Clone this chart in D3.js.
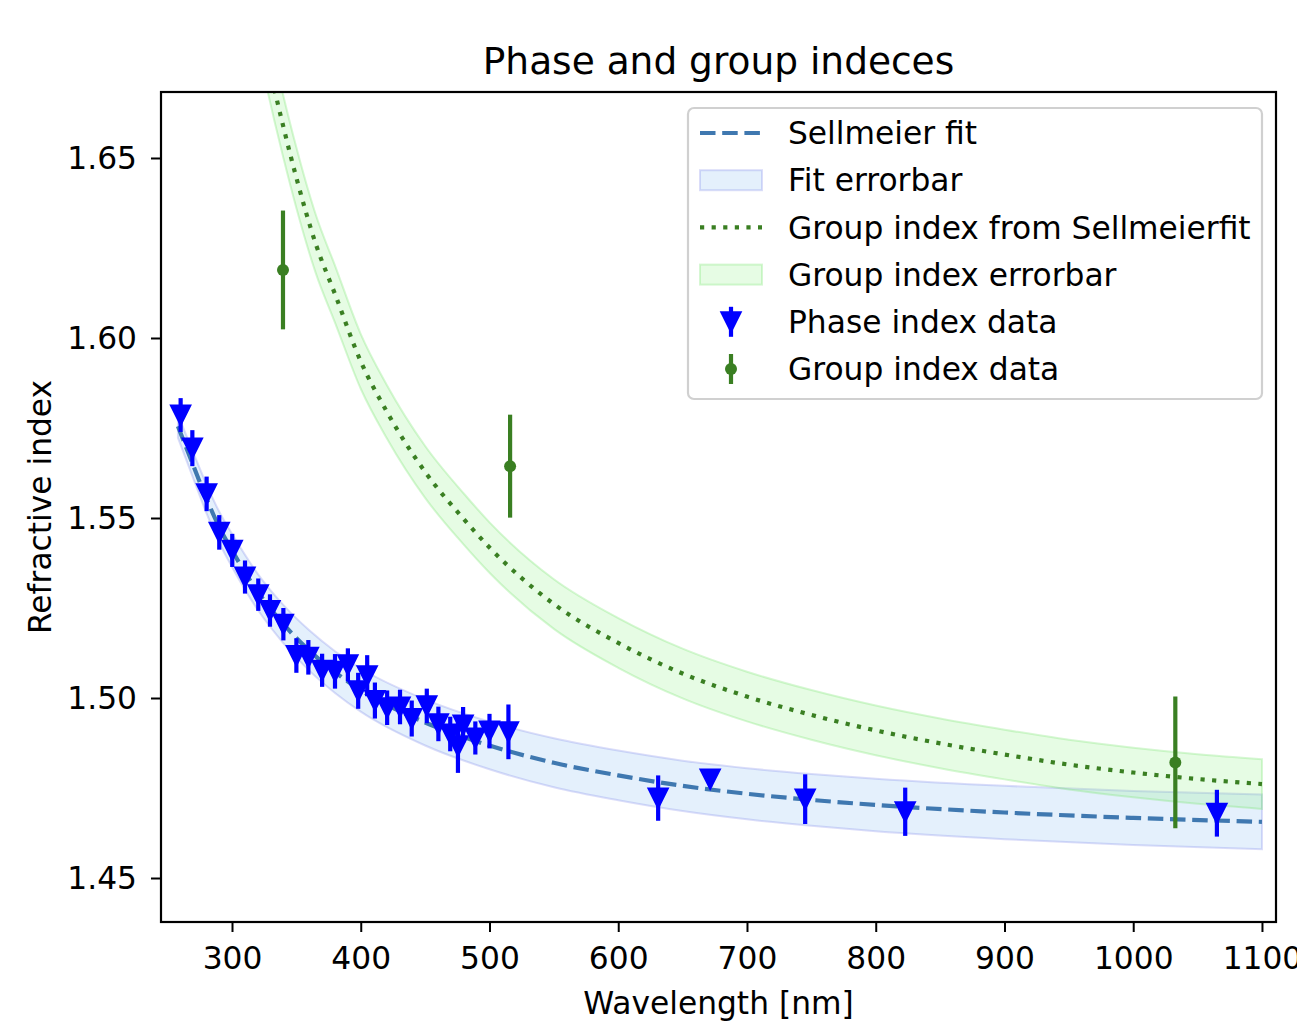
<!DOCTYPE html>
<meta charset="utf-8">
<script src="https://d3js.org/d3.v7.min.js"></script>
<style>
  body { margin: 0; background: #fff; }
  text { font-family: "DejaVu Sans", sans-serif; fill: #000; }
</style>
<div id="chart"></div>
<script>
// ---- data ----
// Sellmeier fit (phase index) and its error band
var fitLam = [258, 270, 280, 290, 300, 320, 340, 360, 380, 400, 450, 500, 550, 600, 650, 700, 750, 800, 900, 1000, 1100];
var fitN   = [1.5755, 1.5645, 1.5555, 1.5475, 1.5410, 1.5295, 1.5205, 1.5132, 1.5072, 1.5022, 1.4932, 1.4868, 1.4820, 1.4785, 1.4756, 1.4734, 1.4717, 1.4703, 1.4682, 1.4667, 1.4656];
var fitErr = [0.0032, 0.0036, 0.0040, 0.0043, 0.0046, 0.0050, 0.0053, 0.0056, 0.0058, 0.0060, 0.0064, 0.0066, 0.0068, 0.0069, 0.0070, 0.0071, 0.0072, 0.0073, 0.0074, 0.0075, 0.0076];

// group index computed from the fit, and its error band
var groupLam = [325, 333, 340, 350, 365, 380, 400, 420, 450, 480, 500, 550, 600, 650, 700, 750, 800, 850, 900, 950, 1000, 1050, 1100];
var groupN   = [1.6817, 1.6690, 1.6585, 1.6445, 1.6262, 1.6122, 1.5935, 1.5797, 1.5628, 1.5497, 1.5418, 1.5261, 1.5153, 1.5068, 1.5004, 1.4953, 1.4910, 1.4874, 1.4843, 1.4815, 1.4793, 1.4775, 1.4761];
var groupErr = [0.0090, 0.0088, 0.0086, 0.0084, 0.0081, 0.0079, 0.0076, 0.0074, 0.0072, 0.0071, 0.0070, 0.0069, 0.0069, 0.0069, 0.0069, 0.0069, 0.0069, 0.0069, 0.0069, 0.0069, 0.0069, 0.0069, 0.0069];

// measured phase index
var phaseLam = [260.1, 269.2, 280.3, 290.1, 300.2, 310.1, 320.4, 329.5, 339.9, 350.0, 359.3, 370.0, 380.0, 390.0, 398.0, 405.0, 411.0, 420.5, 430.5, 439.6, 451.3, 460.3, 469.5, 475.5, 479.5, 489.0, 500.0, 514.7, 631.0, 671.4, 745.2, 822.9, 1065.0];
var phaseN   = [1.5786, 1.5694, 1.5567, 1.5460, 1.5410, 1.5336, 1.5287, 1.5243, 1.5205, 1.5118, 1.5113, 1.5077, 1.5074, 1.5092, 1.5020, 1.5062, 1.4993, 1.4973, 1.4975, 1.4943, 1.4978, 1.4928, 1.4900, 1.4867, 1.4925, 1.4889, 1.4908, 1.4906, 1.4722, 1.4775, 1.4719, 1.4684, 1.4680];
var phaseErr = [0.0047, 0.0050, 0.0048, 0.0048, 0.0046, 0.0046, 0.0045, 0.0045, 0.0045, 0.0048, 0.0048, 0.0046, 0.0048, 0.0046, 0.0050, 0.0057, 0.0050, 0.0048, 0.0048, 0.0050, 0.0048, 0.0048, 0.0048, 0.0075, 0.0050, 0.0046, 0.0048, 0.0076, 0.0063, 0.0022, 0.0069, 0.0067, 0.0065];

// measured group index
var gdLam = [339.6, 516.0, 1032.7];
var gdN   = [1.6189, 1.5644, 1.4821];
var gdErr = [0.0165, 0.0143, 0.0183];

var xTicks = [300, 400, 500, 600, 700, 800, 900, 1000, 1100];
var yTicks = [1.45, 1.50, 1.55, 1.60, 1.65];
var legendLabels = ["Sellmeier fit", "Fit errorbar", "Group index from Sellmeierfit", "Group index errorbar", "Phase index data", "Group index data"];

// ---- layout ----
var margin = {top: 92, right: 21, bottom: 103, left: 161},
  width = 1297 - margin.left - margin.right,
  height = 1025 - margin.top - margin.bottom;

var blue = "#0000ff", green = "#3a7f22", fitColor = "#3f78b0";
var fs = "31.3px";

var svg = d3.select("#chart")
  .append("svg")
    .attr("width", 1297)
    .attr("height", 1025)
  .append("g")
    .attr("transform", "translate(" + margin.left + "," + margin.top + ")");

var x = d3.scaleLinear().domain([244.85, 1110.9]).range([0, width]);
var y = d3.scaleLinear().domain([1.43778, 1.66833]).range([height, 0]);

svg.append("clipPath").attr("id", "clip")
  .append("rect").attr("width", width).attr("height", height);

var plot = svg.append("g").attr("clip-path", "url(#clip)");

var fitRows = fitLam.map(function(l, i) { return {l: l, n: fitN[i], e: fitErr[i]}; });
var groupRows = groupLam.map(function(l, i) { return {l: l, n: groupN[i], e: groupErr[i]}; });

var band = d3.area()
  .curve(d3.curveMonotoneX)
  .x(function(d) { return x(d.l); })
  .y0(function(d) { return y(d.n - d.e); })
  .y1(function(d) { return y(d.n + d.e); });
var line = d3.line()
  .curve(d3.curveMonotoneX)
  .x(function(d) { return x(d.l); })
  .y(function(d) { return y(d.n); });

// error bands
plot.append("path").datum(fitRows)
  .attr("d", band)
  .style("fill", "rgba(120,180,240,0.2)")
  .style("stroke", "rgba(110,120,230,0.25)")
  .style("stroke-width", 2);
plot.append("path").datum(groupRows)
  .attr("d", band)
  .style("fill", "rgba(130,240,120,0.2)")
  .style("stroke", "rgba(120,230,110,0.3)")
  .style("stroke-width", 2);

// fit curves
plot.append("path").datum(fitRows)
  .attr("d", line)
  .style("fill", "none")
  .style("stroke", fitColor)
  .style("stroke-width", 4.2)
  .style("stroke-dasharray", "15.5,6.7");
plot.append("path").datum(groupRows)
  .attr("d", line)
  .style("fill", "none")
  .style("stroke", green)
  .style("stroke-width", 4.2)
  .style("stroke-dasharray", "4.2,7.4");

// phase data: errorbars + down triangles
var phaseRows = phaseLam.map(function(l, i) { return {l: l, n: phaseN[i], e: phaseErr[i]}; });
var tri = function(s) { return "M" + (-s) + "," + (-s) + "L" + s + "," + (-s) + "L0," + s + "Z"; };

plot.selectAll(".pbar").data(phaseRows).enter().append("line")
  .attr("x1", function(d) { return x(d.l); })
  .attr("x2", function(d) { return x(d.l); })
  .attr("y1", function(d) { return y(d.n - d.e); })
  .attr("y2", function(d) { return y(d.n + d.e); })
  .style("stroke", blue)
  .style("stroke-width", 4.2);
plot.selectAll(".ptri").data(phaseRows).enter().append("path")
  .attr("d", tri(9.3))
  .attr("transform", function(d) { return "translate(" + x(d.l) + "," + y(d.n) + ")"; })
  .style("fill", blue)
  .style("stroke", blue)
  .style("stroke-width", 2.5);

// group data: errorbars + dots
var gdRows = gdLam.map(function(l, i) { return {l: l, n: gdN[i], e: gdErr[i]}; });
plot.selectAll(".gbar").data(gdRows).enter().append("line")
  .attr("x1", function(d) { return x(d.l); })
  .attr("x2", function(d) { return x(d.l); })
  .attr("y1", function(d) { return y(d.n - d.e); })
  .attr("y2", function(d) { return y(d.n + d.e); })
  .style("stroke", green)
  .style("stroke-width", 4.2);
plot.selectAll(".gdot").data(gdRows).enter().append("circle")
  .attr("cx", function(d) { return x(d.l); })
  .attr("cy", function(d) { return y(d.n); })
  .attr("r", 6)
  .style("fill", green);

// axes
var xAxis = svg.append("g")
  .attr("transform", "translate(0," + height + ")")
  .call(d3.axisBottom(x).tickValues(xTicks).tickFormat(d3.format("d")).tickSize(10).tickPadding(15));
var yAxis = svg.append("g")
  .call(d3.axisLeft(y).tickValues(yTicks).tickFormat(d3.format(".2f")).tickSize(10).tickPadding(14));
[xAxis, yAxis].forEach(function(a) {
  a.select(".domain").remove();
  a.selectAll(".tick line").style("stroke", "#000").style("stroke-width", 2);
  a.selectAll(".tick text").style("font-size", fs).style("font-family", "DejaVu Sans").style("fill", "#000");
});

svg.append("rect")
  .attr("width", width)
  .attr("height", height)
  .style("fill", "none")
  .style("stroke", "#000")
  .style("stroke-width", 2.2);

// title and labels
svg.append("text")
  .attr("x", width / 2)
  .attr("y", -18)
  .attr("text-anchor", "middle")
  .style("font-size", "37.5px")
  .text("Phase and group indeces");
svg.append("text")
  .attr("x", width / 2)
  .attr("y", height + 92)
  .attr("text-anchor", "middle")
  .style("font-size", fs)
  .text("Wavelength [nm]");
svg.append("text")
  .attr("transform", "translate(" + (51 - margin.left) + "," + (height / 2) + ") rotate(-90)")
  .attr("text-anchor", "middle")
  .style("font-size", fs)
  .text("Refractive index");

// legend
var lg = svg.append("g").attr("transform", "translate(" + (688 - margin.left) + "," + (108 - margin.top) + ")");
lg.append("rect")
  .attr("width", 574)
  .attr("height", 291)
  .attr("rx", 6)
  .style("fill", "rgba(255,255,255,0.8)")
  .style("stroke", "#d0d0d0")
  .style("stroke-width", 2.2);

var rowY = function(i) { return 25 + i * 47.2; };
var hx0 = 12, hx1 = 74, hxm = 43;

lg.selectAll(".ltxt").data(legendLabels).enter().append("text")
  .attr("x", 100)
  .attr("y", function(d, i) { return rowY(i); })
  .attr("dy", "0.36em")
  .style("font-size", fs)
  .text(function(d) { return d; });

lg.append("line").attr("x1", hx0).attr("x2", hx1).attr("y1", rowY(0)).attr("y2", rowY(0))
  .style("stroke", fitColor).style("stroke-width", 4.2).style("stroke-dasharray", "15.5,6.7");
lg.append("rect").attr("x", hx0).attr("y", rowY(1) - 10).attr("width", hx1 - hx0).attr("height", 20)
  .style("fill", "rgba(120,180,240,0.2)").style("stroke", "rgba(110,120,230,0.25)").style("stroke-width", 2);
lg.append("line").attr("x1", hx0).attr("x2", hx1).attr("y1", rowY(2)).attr("y2", rowY(2))
  .style("stroke", green).style("stroke-width", 4.2).style("stroke-dasharray", "4.2,7.4");
lg.append("rect").attr("x", hx0).attr("y", rowY(3) - 10).attr("width", hx1 - hx0).attr("height", 20)
  .style("fill", "rgba(130,240,120,0.2)").style("stroke", "rgba(120,230,110,0.3)").style("stroke-width", 2);
lg.append("line").attr("x1", hxm).attr("x2", hxm).attr("y1", rowY(4) - 15).attr("y2", rowY(4) + 15)
  .style("stroke", blue).style("stroke-width", 4.2);
lg.append("path").attr("d", tri(9.3)).attr("transform", "translate(" + hxm + "," + rowY(4) + ")")
  .style("fill", blue).style("stroke", blue).style("stroke-width", 2.5);
lg.append("line").attr("x1", hxm).attr("x2", hxm).attr("y1", rowY(5) - 15).attr("y2", rowY(5) + 15)
  .style("stroke", green).style("stroke-width", 4.2);
lg.append("circle").attr("cx", hxm).attr("cy", rowY(5)).attr("r", 6).style("fill", green);
</script>
